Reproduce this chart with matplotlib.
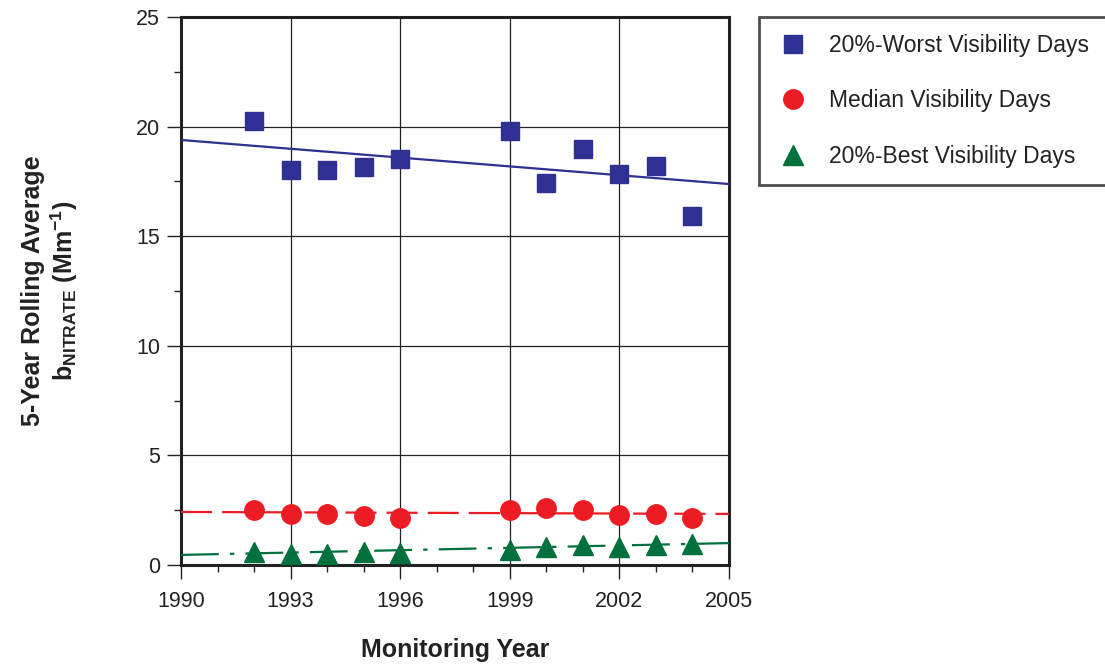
import matplotlib
matplotlib.use("Agg")
import matplotlib.pyplot as plt
from matplotlib.ticker import MultipleLocator, FixedLocator
import numpy as np

plt.rcParams['font.family'] = ['Liberation Sans', 'DejaVu Sans']
plt.rcParams['mathtext.fontset'] = 'custom'
plt.rcParams['mathtext.rm'] = 'Liberation Sans'
plt.rcParams['mathtext.bf'] = 'Liberation Sans:bold'
plt.rcParams['mathtext.it'] = 'Liberation Sans:italic'

years = [1992, 1993, 1994, 1995, 1996, 1999, 2000, 2001, 2002, 2003, 2004]
worst = [20.26, 18.02, 18.02, 18.16, 18.52, 19.80, 17.43, 18.98, 17.84, 18.20, 15.92]
median = [2.51, 2.33, 2.33, 2.24, 2.14, 2.51, 2.60, 2.51, 2.28, 2.33, 2.14]
best = [0.59, 0.50, 0.50, 0.59, 0.55, 0.68, 0.82, 0.91, 0.82, 0.91, 0.96]

trend_years = [1990, 2005]
worst_trend = [19.39, 17.38]
median_trend = [2.42, 2.33]
best_trend = [0.46, 1.00]

xticks = [1990, 1993, 1996, 1999, 2002, 2005]
labels = ['20%-Worst Visibility Days', 'Median Visibility Days', '20%-Best Visibility Days']
c_blue = '#2E3192'
c_red = '#ED1C24'
c_green = '#00703C'

fig = plt.figure(figsize=(11.05, 6.64), dpi=100)
ax = fig.add_axes([181/1105, 1-565/664, (729-181)/1105, (565-17)/664])

ax.plot(trend_years, worst_trend, color=c_blue, lw=1.6, zorder=3)
ax.plot(trend_years, median_trend, color=c_red, lw=1.6, dashes=(14, 4.5), zorder=3)
ax.plot(trend_years, best_trend, color=c_green, lw=1.6, dashes=(17, 5, 2, 5), zorder=3)

h1, = ax.plot(years, worst, 's', color=c_blue, ms=13, zorder=4, label=labels[0])
h2, = ax.plot(years, median, 'o', color=c_red, ms=14, zorder=4, label=labels[1])
h3, = ax.plot(years, best, '^', color=c_green, ms=14, zorder=4, label=labels[2])

ax.set_xlim(1990, 2005)
ax.set_ylim(0, 25)
ax.xaxis.set_major_locator(FixedLocator(xticks))
ax.xaxis.set_minor_locator(MultipleLocator(1))
ax.yaxis.set_major_locator(MultipleLocator(5))
ax.yaxis.set_minor_locator(MultipleLocator(2.5))
ax.grid(True, which='major', color='#222222', lw=0.9, zorder=1)
ax.set_axisbelow(True)
ax.tick_params(which='major', direction='out', length=10, width=1, labelsize=15.5,
               color='#222222', labelcolor='#222222', pad=5)
ax.tick_params(axis='x', which='major', pad=9)
ax.tick_params(which='minor', direction='out', length=5, width=1, color='#222222')
for s in ax.spines.values():
    s.set_linewidth(2.2)
    s.set_color('#222222')

ax.set_xlabel('Monitoring Year', fontsize=18, fontweight='bold', color='#222222')
ax.xaxis.set_label_coords(0.5, -(638-565)/548)
ax.set_ylabel('5-Year Rolling Average\n' + r'b$_{\mathbf{NITRATE}}$ (Mm$^{\mathbf{-1}}$)',
              fontsize=18, fontweight='bold', color='#222222', linespacing=1.15)
ax.yaxis.set_label_coords(-(181-80)/548, 0.5)

leg = fig.legend(handles=[h1, h2, h3], loc='upper left', bbox_to_anchor=(759/1105, 1-17/664),
                 fontsize=16.5, frameon=True, fancybox=False, labelspacing=1.42, borderpad=0.74,
                 handletextpad=0.85, borderaxespad=0, markerscale=1.0, handlelength=1.45)
leg.get_frame().set_edgecolor('#222222')
leg.get_frame().set_linewidth(2)
for t in leg.get_texts():
    t.set_color('#222222')

fig.savefig('out.png', dpi=100)
